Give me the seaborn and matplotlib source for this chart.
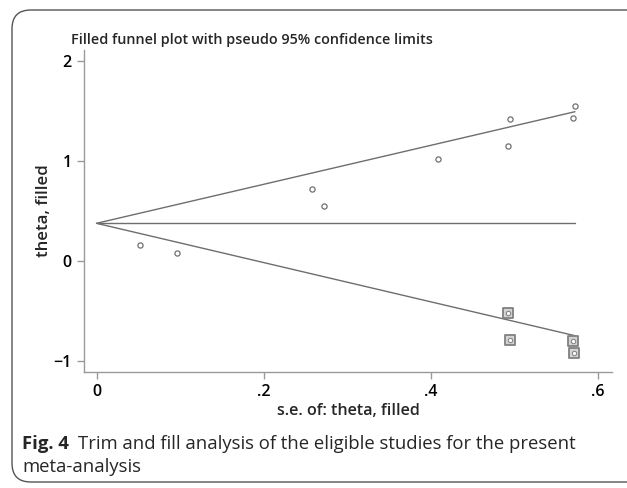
import matplotlib
matplotlib.use("Agg")
import matplotlib.pyplot as plt
import seaborn as sns
import pandas as pd
from matplotlib.patches import FancyBboxPatch

# ---- data ----
se_obs = [0.052, 0.096, 0.258, 0.272, 0.409, 0.492, 0.495, 0.570, 0.573]
theta_obs = [0.16, 0.077, 0.717, 0.55, 1.02, 1.153, 1.42, 1.43, 1.547]
se_fill = [0.492, 0.495, 0.570, 0.572]
theta_fill = [-0.523, -0.79, -0.80, -0.917]
line_se = [0.0, 0.5727]
upper_limit = [0.377, 1.493]
lower_limit = [0.377, -0.747]
pooled = [0.377, 0.377]
x_ticks = [0, 0.2, 0.4, 0.6]
x_ticklabels = ["0", ".2", ".4", ".6"]
y_ticks = [-1, 0, 1, 2]
y_ticklabels = ["\u22121", "0", "1", "2"]

sns.set_theme(style="white")
plt.rcParams['font.family'] = ['Open Sans', 'DejaVu Sans']

W, H = 627, 488
fig = plt.figure(figsize=(W / 100, H / 100), dpi=100)
ax = fig.add_axes([84 / W, (H - 372) / H, (612 - 84) / W, (372 - 50) / H])

lc = "#6e6e6e"
df_lines = pd.DataFrame({"se": line_se * 3,
                         "theta": upper_limit + lower_limit + pooled,
                         "which": ["u", "u", "l", "l", "p", "p"]})
for w in ["u", "l", "p"]:
    sns.lineplot(data=df_lines[df_lines["which"] == w], x="se", y="theta",
                 ax=ax, color=lc, lw=1.0, estimator=None, sort=False)

df_obs = pd.DataFrame({"se": se_obs, "theta": theta_obs})
df_fill = pd.DataFrame({"se": se_fill, "theta": theta_fill})
sns.scatterplot(data=df_obs, x="se", y="theta", ax=ax, marker="o", s=14,
                facecolor="white", edgecolor="#707070", linewidth=0.9, zorder=3)
sns.scatterplot(data=df_fill, x="se", y="theta", ax=ax, marker="s", s=44,
                facecolor="#d4d4d4", edgecolor="#808080", linewidth=1.3, zorder=3)
sns.scatterplot(data=df_fill, x="se", y="theta", ax=ax, marker="o", s=10,
                facecolor="white", edgecolor="#858585", linewidth=0.8, zorder=4)

ax.set_xlim(-0.015, 0.617)
ax.set_ylim(-1.11, 2.11)
ax.set_xticks(x_ticks)
ax.set_xticklabels(x_ticklabels)
ax.set_yticks(y_ticks)
ax.set_yticklabels(y_ticklabels)
for s in ["top", "right"]:
    ax.spines[s].set_visible(False)
for s in ["left", "bottom"]:
    ax.spines[s].set_color("#9a9a9a")
    ax.spines[s].set_linewidth(1.0)
ax.tick_params(axis="both", direction="out", length=5, width=1.0, color="#9a9a9a",
               labelsize=11.5, labelcolor="black", pad=4, left=True, bottom=True)
for lab in ax.get_xticklabels() + ax.get_yticklabels():
    lab.set_fontweight("semibold")
ax.set_xlabel("s.e. of: theta, filled", fontsize=11.6, fontweight="semibold", labelpad=2)
ax.set_ylabel("theta, filled", fontsize=12.2, fontweight="semibold", labelpad=1)
ax.grid(False)

fig.text(71 / W, 1 - 40 / H, "Filled funnel plot with pseudo 95% confidence limits",
         fontsize=10.4, fontweight="semibold", va="center", ha="left")

# caption
fig.canvas.draw()
r = fig.canvas.get_renderer()
t1 = fig.text(22 / W, 1 - 444 / H, "Fig. 4", fontsize=13.3, fontweight="bold",
              va="center", ha="left")
bb = t1.get_window_extent(renderer=r)
fig.text((bb.x1 + 9) / W, 1 - 444 / H,
         "Trim and fill analysis of the eligible studies for the present",
         fontsize=13.3, va="center", ha="left")
fig.text(22 / W, 1 - 467 / H, "meta-analysis", fontsize=13.3, va="center", ha="left")

# border
border = FancyBboxPatch((12 / W, 6 / H), (W + 40) / W, (H - 16) / H,
                        boxstyle="round,pad=0,rounding_size=0.03",
                        transform=fig.transFigure, fill=False,
                        edgecolor="#555555", linewidth=1.0, clip_on=False,
                        mutation_aspect=W / H)
fig.patches.append(border)

fig.savefig("out.png", dpi=100)
